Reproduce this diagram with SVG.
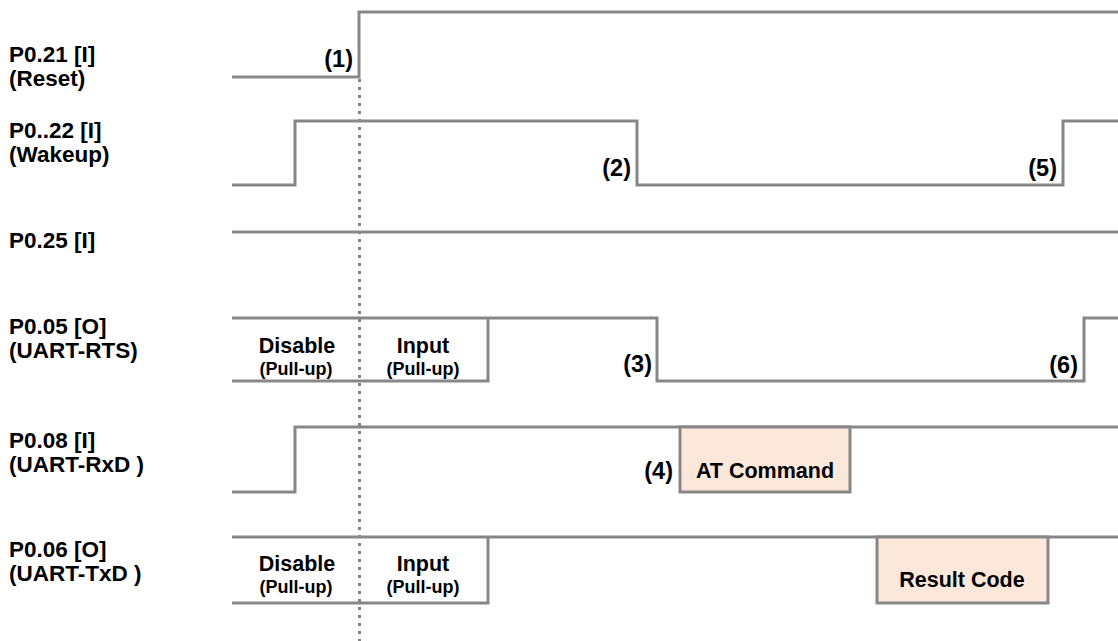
<svg xmlns="http://www.w3.org/2000/svg" width="1118" height="641" viewBox="0 0 1118 641">
<style>
.w{fill:none;stroke:#878787;stroke-width:3;stroke-linejoin:miter;stroke-linecap:butt}
.box{fill:#fce8da;stroke:#878787;stroke-width:3}
.lbl{font-family:"Liberation Sans",Arial,sans-serif;font-weight:bold;font-size:22.5px;fill:#000}
.num{font-family:"Liberation Sans",Arial,sans-serif;font-weight:bold;font-size:23.5px;fill:#000;text-anchor:end}
.bt{font-family:"Liberation Sans",Arial,sans-serif;font-weight:bold;font-size:21.5px;fill:#000;text-anchor:middle}
.st{font-family:"Liberation Sans",Arial,sans-serif;font-weight:bold;font-size:18px;fill:#000;text-anchor:middle}
</style>
<rect width="1118" height="641" fill="#fff"/>
<g id="marker-line">
<line x1="359.5" y1="79" x2="359.5" y2="641" stroke="#858585" stroke-width="3" stroke-dasharray="3 5"/>
</g>
<g id="reset">
<text class="lbl" x="9" y="62">P0.21 [I]</text>
<text class="lbl" x="9" y="86">(Reset)</text>
<polyline class="w" points="232,77 359,77 359,12 1118,12"/>
<text class="num" x="353" y="67">(1)</text>
</g>
<g id="wakeup">
<text class="lbl" x="9" y="138">P0..22 [I]</text>
<text class="lbl" x="9" y="162">(Wakeup)</text>
<polyline class="w" points="232,185 295,185 295,121 637,121 637,185 1063,185 1063,121 1118,121"/>
<text class="num" x="631" y="176">(2)</text>
<text class="num" x="1057" y="176">(5)</text>
</g>
<g id="p025">
<text class="lbl" x="9" y="248">P0.25 [I]</text>
<line class="w" x1="232" y1="232" x2="1118" y2="232"/>
</g>
<g id="rts">
<text class="lbl" x="9" y="334">P0.05 [O]</text>
<text class="lbl" x="9" y="358">(UART-RTS)</text>
<polyline class="w" points="232,381 488,381 488,318"/>
<polyline class="w" points="232,318 657,318 657,381 1084,381 1084,318 1118,318"/>
<text class="bt" x="297" y="353">Disable</text>
<text class="st" x="296" y="375">(Pull-up)</text>
<text class="bt" x="423" y="353">Input</text>
<text class="st" x="423" y="375">(Pull-up)</text>
<text class="num" x="652" y="372">(3)</text>
<text class="num" x="1078" y="373">(6)</text>
</g>
<g id="rxd">
<text class="lbl" x="9" y="448">P0.08 [I]</text>
<text class="lbl" x="9" y="472">(UART-RxD )</text>
<polyline class="w" points="232,492 295,492 295,427 1118,427"/>
<rect class="box" x="680" y="427" width="170" height="65"/>
<text class="bt" x="765" y="478">AT Command</text>
<text class="num" x="673" y="479">(4)</text>
</g>
<g id="txd">
<text class="lbl" x="9" y="557">P0.06 [O]</text>
<text class="lbl" x="9" y="581">(UART-TxD )</text>
<polyline class="w" points="232,537 1118,537"/>
<polyline class="w" points="232,603 488,603 488,537"/>
<rect class="box" x="877" y="537" width="171" height="66"/>
<text class="bt" x="962" y="587">Result Code</text>
<text class="bt" x="297" y="571">Disable</text>
<text class="st" x="296" y="593">(Pull-up)</text>
<text class="bt" x="423" y="571">Input</text>
<text class="st" x="423" y="593">(Pull-up)</text>
</g>
</svg>
